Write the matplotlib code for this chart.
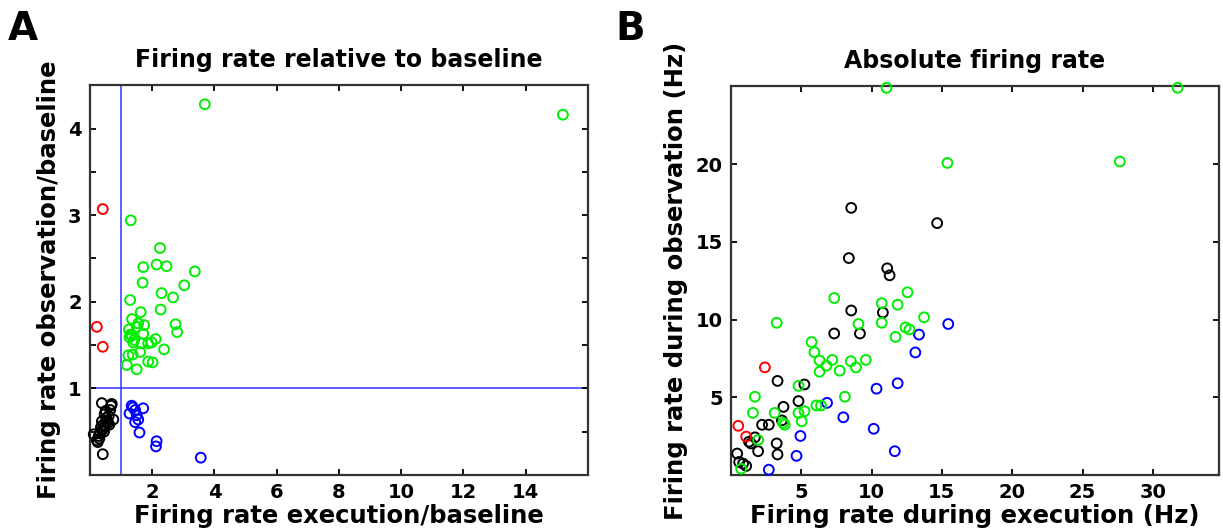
import matplotlib
matplotlib.use("Agg")
import matplotlib.pyplot as plt
import numpy as np

# ── Panel A: firing rate relative to baseline ────────────────────────────
a_green_x = [3.69, 15.2, 1.31, 2.25, 1.71, 2.14, 2.46, 3.37, 1.69, 3.03, 2.30, 2.67,
             1.29, 2.27, 1.63, 1.35, 2.75, 2.80, 1.74, 1.50, 1.25, 1.27, 1.34, 1.71,
             1.39, 1.66, 1.98, 2.11, 1.87, 2.38, 1.23, 1.37, 1.61, 1.18, 1.87, 2.01,
             1.50, 1.30, 1.42, 1.55]
a_green_y = [4.28, 4.16, 2.94, 2.62, 2.40, 2.43, 2.41, 2.35, 2.22, 2.19, 2.10, 2.05,
             2.02, 1.91, 1.88, 1.80, 1.74, 1.65, 1.73, 1.71, 1.68, 1.59, 1.61, 1.63,
             1.53, 1.52, 1.53, 1.57, 1.52, 1.45, 1.38, 1.39, 1.42, 1.27, 1.31, 1.30,
             1.22, 1.62, 1.56, 1.75]
a_red_x = [0.41, 0.22, 0.41]
a_red_y = [3.07, 1.71, 1.48]
a_blue_x = [1.34, 1.27, 1.71, 1.45, 1.50, 1.55, 1.45, 1.59, 2.14, 2.12, 3.56, 1.38]
a_blue_y = [0.80, 0.71, 0.77, 0.75, 0.69, 0.64, 0.61, 0.49, 0.39, 0.33, 0.20, 0.78]
a_black_x = [0.41, 0.38, 0.70, 0.65, 0.50, 0.75, 0.22, 0.12, 0.30, 0.40, 0.48, 0.55,
             0.42, 0.32, 0.45, 0.25, 0.60, 0.52, 0.35, 0.58, 0.47, 0.28, 0.62, 0.38,
             0.68]
a_black_y = [0.24, 0.83, 0.82, 0.75, 0.74, 0.64, 0.40, 0.47, 0.42, 0.52, 0.56, 0.62,
             0.58, 0.48, 0.50, 0.38, 0.68, 0.66, 0.55, 0.60, 0.70, 0.45, 0.58, 0.62,
             0.80]

# ── Panel B: absolute firing rate (Hz) ───────────────────────────────────
b_green_x = [11.06, 31.76, 15.39, 27.65, 7.34, 12.55, 10.72, 11.85, 13.73, 3.25,
             9.06, 10.72, 12.41, 12.69, 11.70, 5.73, 5.93, 6.30, 7.20, 6.78, 6.30,
             8.52, 8.89, 9.59, 7.73, 4.80, 1.70, 8.10, 6.07, 6.40, 1.56, 3.11, 4.80,
             5.23, 3.82, 5.03, 1.93, 0.72, 3.70]
b_green_y = [24.9, 24.9, 20.07, 20.16, 11.38, 11.75, 11.05, 10.95, 10.14, 9.79,
             9.71, 9.79, 9.49, 9.36, 8.88, 8.55, 7.90, 7.36, 7.40, 7.03, 6.64,
             7.32, 6.92, 7.40, 6.71, 5.73, 5.03, 5.03, 4.47, 4.47, 3.99, 3.99, 3.99,
             4.10, 3.23, 3.45, 2.25, 0.40, 3.35]
b_black_x = [8.55, 14.66, 8.38, 11.11, 11.28, 8.55, 10.80, 7.34, 9.17, 3.31, 5.22,
             4.80, 3.73, 3.62, 2.21, 2.69, 1.70, 1.28, 1.42, 3.25, 1.93, 3.31, 0.44,
             0.58, 0.86, 1.08]
b_black_y = [17.18, 16.20, 13.95, 13.29, 12.84, 10.58, 10.45, 9.10, 9.10, 6.05, 5.82,
             4.75, 4.38, 3.51, 3.23, 3.23, 2.42, 2.14, 2.03, 2.03, 1.53, 1.32, 1.38,
             0.84, 0.73, 0.58]
b_red_x = [2.41, 0.52, 1.08]
b_red_y = [6.92, 3.16, 2.47]
b_blue_x = [15.45, 13.37, 13.11, 11.85, 10.35, 6.83, 7.99, 10.15, 4.94, 4.66, 11.65,
            2.69]
b_blue_y = [9.71, 9.03, 7.88, 5.90, 5.55, 4.64, 3.71, 2.97, 2.51, 1.23, 1.53, 0.34]

plt.rcParams.update({"font.family": "DejaVu Sans", "font.weight": "bold"})

fig = plt.figure(figsize=(12.23, 5.31), dpi=100)
ax_a = fig.add_axes([0.0736, 0.1055, 0.407, 0.734])
ax_b = fig.add_axes([0.5977, 0.1055, 0.399, 0.732])

mk = dict(marker="o", s=50, facecolors="none", linewidths=1.4, clip_on=False, zorder=3)


def style(ax):
    for sp in ax.spines.values():
        sp.set_linewidth(1.6)
        sp.set_color("#333333")
    ax.tick_params(direction="in", length=4, width=1.3, top=True, right=True,
                   labelsize=14, pad=6)
    for lab in ax.get_xticklabels() + ax.get_yticklabels():
        lab.set_fontweight("bold")


# panel A
ax = ax_a
ax.axvline(1, color="#3333ff", lw=1.1, zorder=1)
ax.axhline(1, color="#3333ff", lw=1.1, zorder=1)
ax.scatter(a_black_x, a_black_y, edgecolors="black", **mk)
ax.scatter(a_blue_x, a_blue_y, edgecolors="#0000ff", **mk)
ax.scatter(a_red_x, a_red_y, edgecolors="#ff0000", **mk)
ax.scatter(a_green_x, a_green_y, edgecolors="#00ee00", **mk)
ax.set_xlim(0, 16)
ax.set_ylim(0, 4.5)
ax.set_xticks(np.arange(2, 15, 2))
ax.set_yticks(np.arange(0.5, 4.6, 0.5))
ax.set_yticklabels(["" if v % 1 else f"{int(v)}" for v in np.arange(0.5, 4.6, 0.5)])
style(ax)
ax.set_title("Firing rate relative to baseline", fontsize=17, fontweight="bold", pad=13)
ax.set_xlabel("Firing rate execution/baseline", fontsize=17.5, fontweight="bold", labelpad=1)
ax.set_ylabel("Firing rate observation/baseline", fontsize=17.5, fontweight="bold", labelpad=5)
fig.text(0.006, 0.925, "A", fontsize=28, fontweight="bold")

# panel B
ax = ax_b
ax.scatter(b_black_x, b_black_y, edgecolors="black", **mk)
ax.scatter(b_blue_x, b_blue_y, edgecolors="#0000ff", **mk)
ax.scatter(b_red_x, b_red_y, edgecolors="#ff0000", **mk)
ax.scatter(b_green_x, b_green_y, edgecolors="#00ee00", **mk)
ax.set_xlim(0, 34.7)
ax.set_ylim(0, 25)
ax.set_xticks(np.arange(5, 31, 5))
ax.set_yticks(np.arange(5, 21, 5))
style(ax)
ax.set_title("Absolute firing rate", fontsize=17, fontweight="bold", pad=13)
ax.set_xlabel("Firing rate during execution (Hz)", fontsize=17.5, fontweight="bold", labelpad=1)
ax.set_ylabel("Firing rate during observation (Hz)", fontsize=17.5, fontweight="bold", labelpad=5)
fig.text(0.503, 0.925, "B", fontsize=28, fontweight="bold")

fig.savefig("out.png", dpi=100)
